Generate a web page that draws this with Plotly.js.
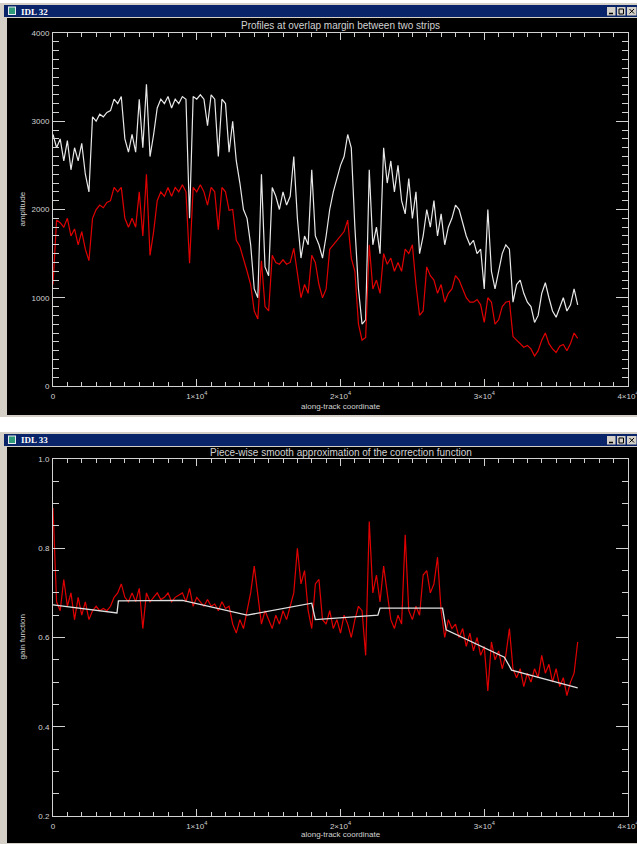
<!DOCTYPE html>
<html><head><meta charset="utf-8">
<script src="https://cdn.plot.ly/plotly-3.0.1.min.js"></script>
<style>html,body{margin:0;padding:0;background:#fff;overflow:hidden}#chart{width:637px;height:844px}</style>
</head><body><div id="chart"></div>
<script>
// ---------------- data ----------------
const alongTrack = [0,250,500,750,1000,1250,1500,1750,2000,2250,2500,2750,3000,3250,3500,3750,4000,4250,4500,4750,
5000,5250,5500,5750,6000,6250,6500,6750,7000,7250,7500,7750,8000,8250,8500,8750,9000,9250,9500,9750,
10000,10250,10500,10750,11000,11250,11500,11750,12000,12250,12500,12750,13000,13250,13500,13750,14000,14250,14500,14750,
15000,15250,15500,15750,16000,16250,16500,16750,17000,17250,17500,17750,18000,18250,18500,18750,19000,19250,19500,19750,
20000,20250,20500,20750,21000,21250,21500,21750,22000,22250,22500,22750,23000,23250,23500,23750,24000,24250,24500,24750,
25000,25250,25500,25750,26000,26250,26500,26750,27000,27250,27500,27750,28000,28250,28500,28750,29000,29250,29500,29750,
30000,30250,30500,30750,31000,31250,31500,31750,32000,32250,32500,32750,33000,33250,33500,33750,34000,34250,34500,34750,
35000,35250,35500,35750,36000,36250,36500];

const amplitudeStrip1 = [2850,2700,2800,2550,2780,2450,2700,2550,2750,2400,
2200,3050,3000,3080,3050,3100,3120,3250,3200,3280,
2800,2650,2850,2650,3250,2700,3420,2600,2850,3150,
3250,3200,3280,3150,3250,3200,3280,3250,1900,3280,
3250,3300,3250,2950,3300,3250,2600,3250,3200,2650,
3000,2550,2300,2000,1900,1600,1100,1000,2400,1350,
1250,2250,2150,2000,2200,2050,2150,2600,1900,1450,
1700,1600,2450,1700,1600,1450,1700,2000,2200,2350,
2500,2600,2850,2700,1800,1100,700,750,2450,1600,
1800,1500,2700,2300,2550,2200,2500,2100,1950,2350,
1900,2200,1500,1700,2000,1800,2100,1700,1950,1600,
1800,1900,2050,2000,1850,1700,1600,1650,1500,1550,
1100,2000,1300,1100,1300,1500,1600,1550,950,1150,
1200,1050,950,900,720,800,1050,1170,1000,850,
780,900,1000,850,920,1100,920];

const amplitudeStrip2 = [1150,1880,1850,1800,1900,1700,1780,1600,1750,1550,
1420,1900,2000,2050,2020,2080,2100,2250,2200,2250,
1900,1800,1900,1800,2200,1700,2400,1480,1750,2100,
2200,2150,2250,2150,2250,2200,2280,2200,1390,2250,
2200,2280,2200,2050,2250,2200,1770,2250,2200,1990,
2000,1650,1580,1450,1300,1150,850,760,1420,900,
850,1480,1400,1380,1430,1380,1400,1560,1250,1000,
1150,1050,1480,1400,1150,1000,1100,1550,1600,1650,
1700,1750,1880,1450,1300,700,520,550,1600,1100,
1200,1050,1500,1380,1450,1300,1400,1300,1550,1500,
1600,1150,800,850,1350,1250,1200,1050,1150,950,
1050,1100,1250,1200,1100,1000,950,950,980,920,
720,1000,950,700,750,900,950,960,560,520,
480,440,460,420,340,400,520,600,480,420,
380,450,470,400,480,600,540];

const gainFunction = [0.89,0.68,0.66,0.73,0.67,0.70,0.64,0.69,0.65,0.68,
0.64,0.66,0.67,0.66,0.665,0.66,0.67,0.69,0.70,0.72,
0.69,0.68,0.70,0.68,0.71,0.62,0.70,0.68,0.69,0.70,
0.685,0.69,0.70,0.68,0.69,0.695,0.70,0.68,0.71,0.67,
0.69,0.68,0.67,0.685,0.67,0.675,0.66,0.68,0.665,0.67,
0.63,0.61,0.64,0.62,0.66,0.70,0.76,0.70,0.63,0.66,
0.64,0.62,0.65,0.63,0.66,0.64,0.67,0.70,0.80,0.72,
0.75,0.66,0.62,0.72,0.73,0.64,0.63,0.66,0.62,0.64,
0.61,0.65,0.63,0.60,0.64,0.67,0.66,0.56,0.86,0.70,
0.74,0.68,0.76,0.70,0.64,0.62,0.65,0.63,0.83,0.66,
0.64,0.67,0.65,0.74,0.75,0.70,0.72,0.78,0.66,0.60,
0.64,0.62,0.63,0.60,0.62,0.58,0.61,0.57,0.60,0.56,
0.58,0.48,0.59,0.55,0.57,0.53,0.56,0.62,0.53,0.51,
0.53,0.49,0.52,0.50,0.53,0.51,0.56,0.52,0.54,0.50,
0.53,0.49,0.51,0.47,0.50,0.52,0.59];

const approxX    = [0,4450,4550,9000,13500,18000,18250,22600,22750,27100,27350,31400,31900,36500];
const approxGain = [0.673,0.655,0.682,0.683,0.650,0.677,0.640,0.650,0.666,0.666,0.617,0.556,0.527,0.487];

const xTickVals = [0,10000,20000,30000,40000];
const xTickText = ['0','1×10<sup>4</sup>','2×10<sup>4</sup>','3×10<sup>4</sup>','4×10<sup>4</sup>'];
const ampTickVals = [0,1000,2000,3000,4000];
const ampTickText = ['0','1000','2000','3000','4000'];
const gainTickVals = [0.2,0.4,0.6,0.8,1.0];
const gainTickText = ['0.2','0.4','0.6','0.8','1.0'];

const topTitle = 'Profiles at overlap margin between two strips';
const bottomTitle = 'Piece-wise smooth approximation of the correction function';
const xTitle = 'along-track coordinate';
const topYTitle = 'amplitude';
const bottomYTitle = 'gain function';
const windowNames = ['IDL 32','IDL 33'];

// ---------------- layout helpers ----------------
const W = 637, H = 844;
const PX = x => x / W;
const PY = y => 1 - y / H;
const AX = '#d2d2d2';
const FONT = 'Liberation Sans, Arial, sans-serif';

function xAxis(anchor){
  return {anchor, domain:[PX(53), PX(628)], range:[0,40000], showline:true, linecolor:AX, linewidth:1,
    mirror:'ticks', ticks:'inside', ticklen:7, tickwidth:1, tickcolor:AX,
    tickmode:'array', tickvals:xTickVals, ticktext:xTickText, ticklabelstandoff:2,
    ticklabeloverflow:'allow',
    tickfont:{family:FONT, size:8, color:AX},
    minor:{ticks:'inside', ticklen:4, tickcolor:AX, tickwidth:1, dtick:1000, tick0:0, showgrid:false},
    showgrid:false, zeroline:false, fixedrange:true};
}
function yAxis(anchor, dom, range, vals, text, minorStep){
  return {anchor, domain:dom, range, showline:true, linecolor:AX, linewidth:1,
    mirror:'ticks', ticks:'inside', ticklen:12, tickwidth:1, tickcolor:AX,
    tickmode:'array', tickvals:vals, ticktext:text, ticklabelstandoff:1,
    ticklabeloverflow:'allow',
    tickfont:{family:FONT, size:8, color:AX},
    minor:{ticks:'inside', ticklen:6, tickcolor:AX, tickwidth:1, dtick:minorStep, tick0:0, showgrid:false},
    showgrid:false, zeroline:false, fixedrange:true};
}

function rect(x0,y0,x1,y1,fill,line){
  return {type:'rect', xref:'paper', yref:'paper', x0:PX(x0), x1:PX(x1), y0:PY(y1), y1:PY(y0),
    fillcolor:fill, line:line||{width:0}, layer:'below'};
}
function seg(x0,y0,x1,y1,color,w){
  return {type:'line', xref:'paper', yref:'paper', x0:PX(x0), x1:PX(x1), y0:PY(y0), y1:PY(y1),
    line:{color, width:w||1}, layer:'above'};
}
function windowChrome(top, bottom){
  const s = [];
  s.push(rect(0, top, 637, bottom, '#d4d0c8'));
  s.push(rect(4, top+2, 637, top+14, '#0a246a'));
  s.push(rect(7, top+15, 637, bottom-2, '#000000'));
  // icon
  s.push(rect(8, top+3.5, 16, top+12, '#e8eef0'));
  s.push(rect(9, top+4.5, 15, top+11, '#2f9a7a'));
  // buttons
  s.push(rect(607, top+4, 615.5, top+12.5, '#d4d0c8'));
  s.push(rect(617, top+4, 625.5, top+12.5, '#d4d0c8'));
  s.push(rect(627, top+4, 636.5, top+12.5, '#d4d0c8'));
  s.push(seg(609, top+10.5, 613, top+10.5, '#000', 1.5));
  s.push({type:'rect', xref:'paper', yref:'paper', x0:PX(619), x1:PX(623.5), y0:PY(top+11), y1:PY(top+6),
    line:{color:'#000', width:1}, fillcolor:'rgba(0,0,0,0)', layer:'above'});
  s.push(seg(629.5, top+6, 634, top+10.5, '#000', 1));
  s.push(seg(629.5, top+10.5, 634, top+6, '#000', 1));
  return s;
}

const shapes = [...windowChrome(3, 417), ...windowChrome(432, 845)];

function ann(text, x, y, opts){
  return Object.assign({text, xref:'paper', yref:'paper', x:PX(x), y:PY(y), showarrow:false,
    xanchor:'center', yanchor:'middle', font:{family:FONT, size:10, color:AX}}, opts||{});
}
const annotations = [
  ann(windowNames[0], 19, 11.5, {xanchor:'left', font:{family:'Liberation Serif, Times New Roman, serif', size:9, color:'#ffffff', weight:'bold'}}),
  ann(windowNames[1], 19, 440.5, {xanchor:'left', font:{family:'Liberation Serif, Times New Roman, serif', size:9, color:'#ffffff', weight:'bold'}}),
  ann(topTitle, 340.5, 25),
  ann(bottomTitle, 340.5, 452),
  ann(xTitle, 340.5, 406, {font:{family:FONT, size:8, color:AX}}),
  ann(xTitle, 340.5, 834, {font:{family:FONT, size:8, color:AX}}),
  ann(topYTitle, 22, 209.5, {textangle:-90, font:{family:FONT, size:8, color:AX}}),
  ann(bottomYTitle, 22, 637.5, {textangle:-90, font:{family:FONT, size:8, color:AX}})
];

const traces = [
  {x:alongTrack, y:amplitudeStrip1, xaxis:'x', yaxis:'y', type:'scatter', mode:'lines',
   line:{color:'#e8e8e8', width:1.2}, name:'strip 1', hoverinfo:'skip'},
  {x:alongTrack, y:amplitudeStrip2, xaxis:'x', yaxis:'y', type:'scatter', mode:'lines',
   line:{color:'#e00000', width:1.2}, name:'strip 2', hoverinfo:'skip'},
  {x:alongTrack, y:gainFunction, xaxis:'x2', yaxis:'y2', type:'scatter', mode:'lines',
   line:{color:'#e00000', width:1.2}, name:'gain', hoverinfo:'skip'},
  {x:approxX, y:approxGain, xaxis:'x2', yaxis:'y2', type:'scatter', mode:'lines',
   line:{color:'#e0e0e0', width:1.3}, name:'approximation', hoverinfo:'skip'}
];

const layout = {
  width:W, height:H, margin:{l:0,r:0,t:0,b:0}, autosize:false,
  paper_bgcolor:'#ffffff', plot_bgcolor:'#000000', showlegend:false,
  xaxis: xAxis('y'),
  yaxis: yAxis('x', [PY(386), PY(33)], [0,4000], ampTickVals, ampTickText, 100),
  xaxis2: xAxis('y2'),
  yaxis2: yAxis('x2', [PY(816), PY(459)], [0.2,1.0], gainTickVals, gainTickText, 0.05),
  shapes, annotations
};

Plotly.newPlot('chart', traces, layout, {staticPlot:true, displayModeBar:false});
</script>
</body></html>
